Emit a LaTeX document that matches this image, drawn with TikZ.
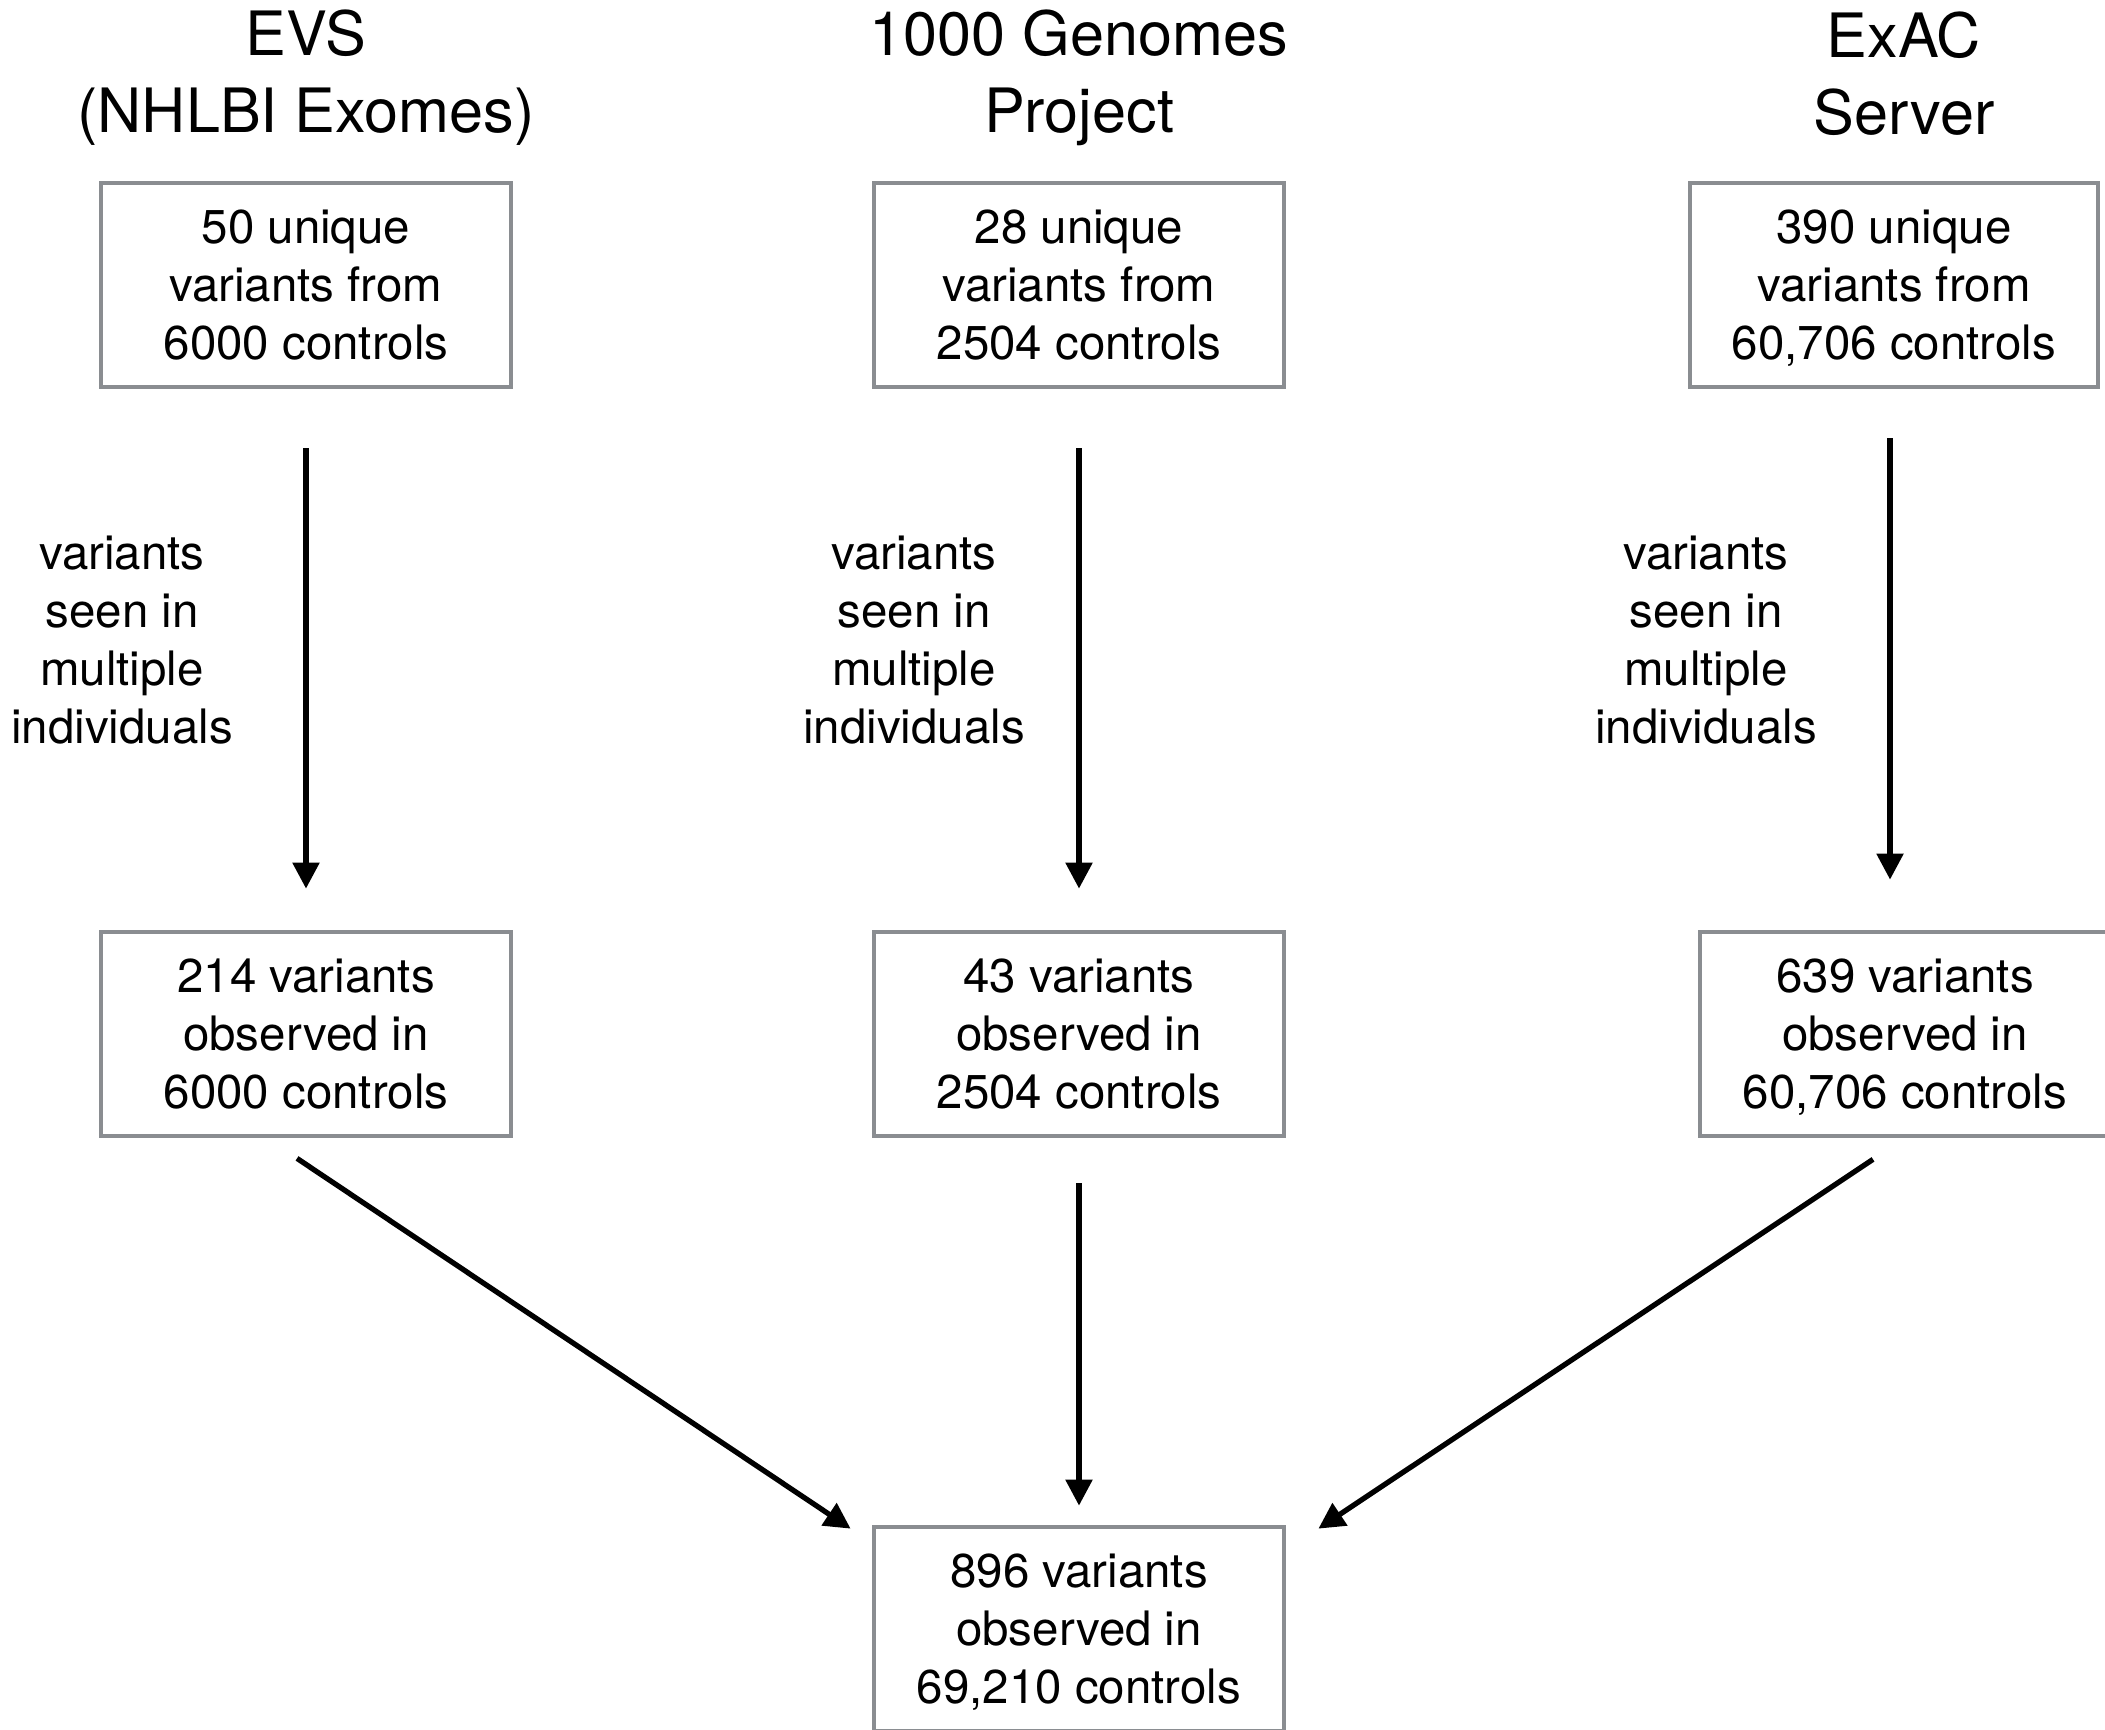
\documentclass[tikz,border=0pt]{standalone}
\usepackage{fontspec}
\setmainfont{TeX Gyre Heros}
\usetikzlibrary{arrows.meta}
\definecolor{boxgray}{RGB}{138,141,145}
\tikzset{
	box/.style={draw=boxgray, line width=1.35pt, minimum width=4.1cm, minimum height=2.04cm, align=center, inner sep=0pt, font=\fontsize{13.5pt}{16.5pt}\selectfont},
	title/.style={align=center, inner sep=0pt, font=\fontsize{17.4pt}{21.9pt}\selectfont},
	note/.style={align=center, inner sep=0pt, font=\fontsize{13.5pt}{16.5pt}\selectfont},
	arr/.style={line width=1.5pt, -{Triangle[width=0.26cm, length=0.26cm]}}
}

\begin{document}
\begin{tikzpicture}
			%%%%% START %%%%%
			
			\useasboundingbox (0, 0) rectangle (21.05, -17.29);
			
			\node[title] (t1) at (3.06, -0.78) {EVS\\(NHLBI Exomes)};
			\node[title] (t2) at (10.79, -0.78) {1000 Genomes\\Project};
			\node[title] (t3) at (19.04, -0.74) {ExAC\\Server};
			
			\node[box] (b1) at (3.06, -2.85) {50 unique\\variants from\\6000 controls};
			\node[box] (b2) at (10.79, -2.85) {28 unique\\variants from\\2504 controls};
			\node[box, minimum width=4.08cm, text depth=0pt] (b3) at (18.94, -2.85) {390 unique\\variants from\\60,706 controls};
			
			\node[note] (n1) at (1.22, -6.40) {variants\\seen in\\multiple\\individuals};
			\node[note] (n2) at (9.14, -6.40) {variants\\seen in\\multiple\\individuals};
			\node[note] (n3) at (17.06, -6.40) {variants\\seen in\\multiple\\individuals};
			
			\node[box] (m1) at (3.06, -10.34) {214 variants\\observed in\\6000 controls};
			\node[box] (m2) at (10.79, -10.34) {43 variants\\observed in\\2504 controls};
			\node[box, text depth=0pt] (m3) at (19.05, -10.34) {639 variants\\observed in\\60,706 controls};
			
			\node[box, text depth=0pt] (res) at (10.79, -16.29) {896 variants\\observed in\\69,210 controls};
			
			\draw[arr, shorten <=0.59cm, shorten >=0.41cm] (b1.south) -- (m1.north);
			\draw[arr, shorten <=0.59cm, shorten >=0.41cm] (b2.south) -- (m2.north);
			\draw[arr, shorten <=0.49cm, shorten >=0.50cm] ([xshift=-0.04cm]b3.south) -- ([xshift=-0.04cm]b3.south |- m3.north);
			
			\draw[arr] ([xshift=-0.09cm, yshift=-0.20cm]m1.south) -- ([xshift=-0.21cm, yshift=-0.04cm]res.north west);
			\draw[arr, shorten <=0.45cm, shorten >=0.19cm] (m2.south) -- (res.north);
			\draw[arr] ([xshift=-0.32cm, yshift=-0.21cm]m3.south) -- ([xshift=0.32cm, yshift=-0.04cm]res.north east);
			
			%%%%% END %%%%%
		\end{tikzpicture}
\end{document}
